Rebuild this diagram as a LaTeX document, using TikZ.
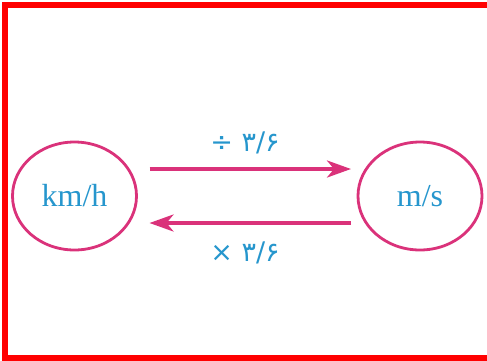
\documentclass[tikz,border=0pt]{standalone}
\usepackage{fontspec}
\setmainfont{Liberation Serif}
\newfontfamily\arabicfont[Script=Arabic]{DejaVu Sans}
\usepackage{tikz}
\usetikzlibrary{shapes.geometric,arrows.meta,positioning,calc}
\definecolor{framered}{RGB}{255,0,0}
\definecolor{arrowpink}{RGB}{218,50,122}
\definecolor{unitblue}{RGB}{38,150,205}

\begin{document}
\begin{tikzpicture}[
    x=1pt, y=-1pt,
    unit/.style={draw=arrowpink, ellipse, line width=2.8pt, minimum width=124pt,
                 minimum height=108pt, inner sep=0pt, outer sep=0pt,
                 text=unitblue, font=\fontsize{32}{36}\selectfont},
    arr/.style={-{Stealth[length=24pt, width=17pt, inset=7pt]}, line width=3.6pt, arrowpink},
    op/.style={text=unitblue, font=\fontsize{27}{30}\selectfont\arabicfont}
]
    \useasboundingbox (0,0) rectangle (487,360);
    \draw[framered, line width=6pt, line join=miter] (487,5) -- (5.3,5) -- (5.3,357.5) -- (487,357.5);

    \node[unit] (kmh) at (74.5,196) {km/h};
    \node[unit] (ms) at (420,196) {m/s};

    \draw[arr, shorten <=13pt, shorten >=7pt] ([yshift=27pt]kmh.east) -- ([yshift=27pt]ms.west);
    \draw[arr, shorten <=7pt, shorten >=13pt] ([yshift=-27pt]ms.west) -- ([yshift=-27pt]kmh.east);

    \node[op] (divlbl) at (245,143) {÷ ۳/۶};
    \node[op] (mullbl) at (245,253) {× ۳/۶};
\end{tikzpicture}
\end{document}
